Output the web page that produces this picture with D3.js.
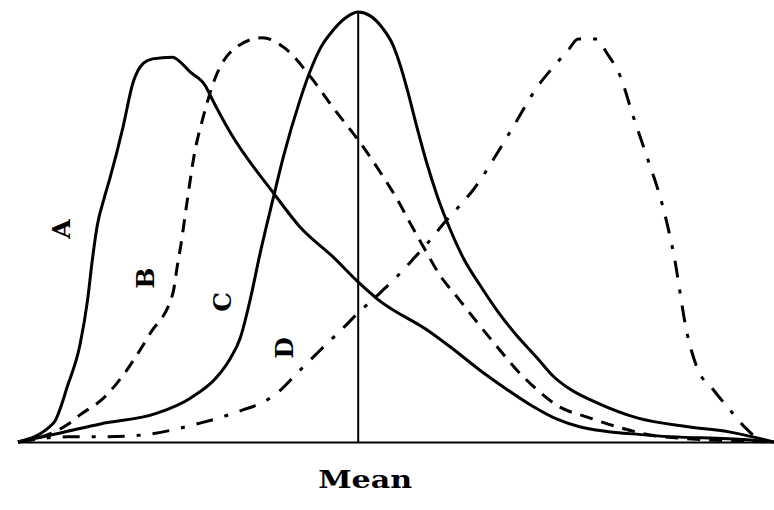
<!DOCTYPE html>
<html>
<head>
<meta charset="utf-8">
<script src="https://cdn.jsdelivr.net/npm/d3@7"></script>
<style>
html, body { margin: 0; padding: 0; background: #ffffff; overflow: hidden; }
svg { display: block; }
</style>
</head>
<body>
<svg id="chart" width="774" height="510"></svg>
<script>
// ---- data (x: deviation from the mean, y: relative frequency) ----
const curveNames = ["A", "B", "C", "D"];
const axisLabel = "Mean";

const curveA_x = [-45, -40.3, -38.4, -36.8, -35.8, -35.2, -34.5, -33.6, -32.8, -31.1, -29.8, -28.4, -27.2, -24.6, -22.2, -20.2, -19.4, -16.9, -11.2, -7.7, -3.3, 0.3, 2.5, 9.5, 12.2, 16.1, 19.2, 22.8, 26.3, 29.4, 38.2, 51.5, 55];
const curveA_y = [0, 4.4, 13.3, 22.6, 33.0, 41.9, 50.5, 56.7, 61.6, 73.3, 83.5, 88.1, 89.1, 89.5, 86.0, 82.8, 80.0, 71.9, 57.9, 50.0, 43.0, 36.7, 33.3, 25.6, 22.1, 16.7, 12.8, 8.6, 5.3, 3.5, 1.6, 0.5, 0];

const curveB_x = [-45, -38.5, -36.8, -33.7, -31.9, -27.5, -24.5, -23.9, -23.5, -22.6, -21.7, -20.5, -18.9, -16.3, -12.7, -9.7, -6.3, -3.3, 0.3, 2.9, 5.2, 7.0, 9.0, 10.8, 13.1, 15.7, 18.4, 21.0, 23.7, 26.7, 30.3, 34.3, 40.3, 55];
const curveB_y = [0, 4.0, 6.3, 10.2, 13.7, 25.3, 34.7, 41.2, 45.3, 56.3, 66.7, 75.6, 84.7, 91.6, 94.0, 91.6, 84.9, 77.7, 69.5, 62.8, 56.3, 50.5, 44.2, 38.8, 33.7, 27.9, 22.1, 16.7, 12.1, 8.1, 5.8, 3.5, 1.2, 0];

const curveC_x = [-45, -39.4, -34.1, -26.6, -22.2, -18.7, -16.9, -15.6, -14.3, -13.0, -11.2, -9.9, -7.7, -6.3, -5.0, -3.3, -1.7, 0, 1.6, 3.2, 4.6, 5.6, 6.5, 7.8, 9.1, 10.5, 12.2, 13.9, 16.1, 18.4, 21.0, 23.7, 25.8, 28.0, 31.6, 36.9, 43.9, 49.2, 55];
const curveC_y = [0, 2.1, 4.2, 6.7, 10.2, 15.1, 19.5, 24.2, 33.0, 43.7, 57.0, 66.3, 79.5, 86.5, 91.6, 95.8, 98.6, 100, 99.1, 96.3, 92.3, 87.4, 81.9, 73.0, 64.7, 57.0, 49.3, 42.8, 36.5, 30.5, 24.7, 19.5, 15.3, 12.3, 9.1, 5.6, 3.5, 2.3, 0];

const curveD_x = [-45, -38.5, -33.7, -28.8, -20.9, -16.5, -10.7, -7.7, -5.0, -2.4, 0, 2.9, 5.2, 7.3, 9.3, 11.5, 13.5, 15.2, 18.4, 20.5, 23.7, 25.8, 27.8, 29.1, 31.6, 32.8, 34.7, 36.4, 38.2, 40.3, 41.7, 43.5, 44.8, 47.0, 49.2, 51.5, 53.2, 55];
const curveD_y = [0, 1.2, 1.2, 1.6, 4.4, 6.7, 11.4, 16.7, 21.4, 25.8, 30.0, 34.7, 38.6, 42.6, 46.5, 51.2, 55.1, 58.6, 67.2, 73.3, 82.6, 87.2, 91.2, 93.7, 93.7, 90.7, 84.9, 75.6, 66.3, 54.7, 44.0, 25.3, 17.4, 12.1, 7.4, 2.8, 0.5, 0];

// label anchor points in data units for each curve name
const labelX = [-39.2, -28.2, -17.9, -9.7];
const labelY = [49.5, 38.1, 32.6, 21.9];

// ---- drawing ----
const svg = d3.select("#chart");
const x = d3.scaleLinear().domain([-45, 55]).range([18, 774]);
const y = d3.scaleLinear().domain([0, 100]).range([442, 12]);

svg.append("rect").attr("width", 774).attr("height", 510).attr("fill", "#ffffff");

// baseline
svg.append("line")
  .attr("x1", x(-45)).attr("x2", x(55))
  .attr("y1", y(0) + 0.5).attr("y2", y(0) + 0.5)
  .attr("stroke", "#000").attr("stroke-width", 2);

// mean line
svg.append("line")
  .attr("x1", x(0)).attr("x2", x(0))
  .attr("y1", y(100)).attr("y2", y(0))
  .attr("stroke", "#000").attr("stroke-width", 2);

const line = d3.line()
  .x(d => x(d[0]))
  .y(d => y(d[1]))
  .curve(d3.curveMonotoneX);

const series = [
  { xs: curveA_x, ys: curveA_y, dash: null },
  { xs: curveB_x, ys: curveB_y, dash: "13,9" },
  { xs: curveC_x, ys: curveC_y, dash: null },
  { xs: curveD_x, ys: curveD_y, dash: "17,12,4,12" }
];

series.forEach(s => {
  const pts = s.xs.map((v, i) => [v, s.ys[i]]);
  svg.append("path")
    .attr("d", line(pts))
    .attr("fill", "none")
    .attr("stroke", "#000")
    .attr("stroke-width", 3)
    .attr("stroke-linejoin", "round")
    .attr("stroke-dasharray", s.dash);
});

// curve labels (rotated)
curveNames.forEach((name, i) => {
  const cx = x(labelX[i]), cy = y(labelY[i]);
  svg.append("text")
    .attr("transform", `translate(${cx},${cy}) rotate(-90)`)
    .attr("text-anchor", "middle")
    .attr("dominant-baseline", "central")
    .attr("font-family", "DejaVu Serif")
    .attr("font-weight", "bold")
    .attr("font-size", 25)
    .attr("fill", "#000")
    .text(name);
});

// Mean label
svg.append("text")
  .attr("x", x(0) - 40)
  .attr("y", 488)
  .attr("font-family", "DejaVu Serif")
  .attr("font-weight", "bold")
  .attr("font-size", 25)
  .attr("textLength", 94)
  .attr("lengthAdjust", "spacingAndGlyphs")
  .attr("fill", "#000")
  .text(axisLabel);
</script>
</body>
</html>
